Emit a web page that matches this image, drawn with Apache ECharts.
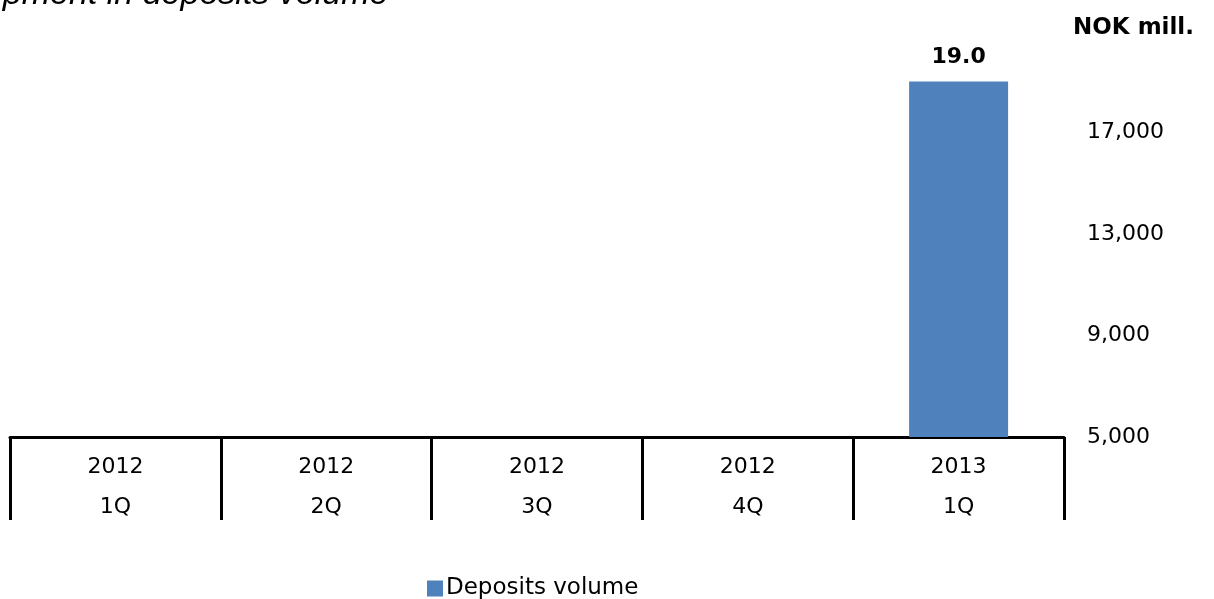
<!DOCTYPE html>
<html>
<head>
<meta charset="utf-8">
<script src="https://cdn.jsdelivr.net/npm/echarts@6/dist/echarts.min.js"></script>
<style>
  html, body { margin: 0; padding: 0; background: #fff; }
  #chart { width: 1214px; height: 599px; }
</style>
</head>
<body>
<div id="chart"></div>
<script>
// Quarterly deposits volume, NOK million
const categories = ['2012\n1Q', '2012\n2Q', '2012\n3Q', '2012\n4Q', '2013\n1Q'];
const depositsVolume = [null, null, null, null, 19000];
const seriesName = 'Deposits volume';
const yMin = 5000;
const yMax = 21000;
const yStep = 4000;

const FONT = 'DejaVu Sans';
const chart = echarts.init(document.getElementById('chart'), null, { renderer: 'canvas' });

chart.setOption({
  animation: false,
  backgroundColor: '#ffffff',
  textStyle: { fontFamily: FONT },
  graphic: [
    {
      type: 'text',
      x: -103,
      y: -22,
      style: {
        text: 'Development in deposits volume',
        font: 'italic 34px "Liberation Sans", Arial, sans-serif',
        fill: '#000',
        align: 'left',
        verticalAlign: 'top'
      }
    },
    {
      type: 'text',
      left: 1073,
      top: 17,
      style: {
        text: 'NOK mill.',
        font: 'bold 23px "DejaVu Sans", sans-serif',
        fill: '#000'
      }
    }
  ],
  legend: {
    left: 422,
    top: 572,
    itemWidth: 16,
    itemHeight: 16,
    itemGap: 10,
    icon: 'rect',
    textStyle: { fontFamily: FONT, fontSize: 23, color: '#000', padding: [0, 0, 0, -2] },
    data: [seriesName]
  },
  grid: {
    left: 10,
    right: 150,
    top: 437 - (yMax - yMin) / yStep * 101.6,
    bottom: 599 - 437,
    containLabel: false
  },
  xAxis: {
    type: 'category',
    data: categories,
    boundaryGap: true,
    axisLine: { show: true, lineStyle: { color: '#000', width: 3 } },
    axisTick: { show: true, interval: 0, length: 83, lineStyle: { color: '#000', width: 3 } },
    axisLabel: {
      interval: 0,
      margin: 10,
      fontFamily: FONT,
      fontSize: 22,
      lineHeight: 40,
      color: '#000'
    },
    splitLine: { show: false }
  },
  yAxis: {
    type: 'value',
    position: 'right',
    min: yMin,
    max: yMax,
    interval: yStep,
    axisLine: { show: false },
    axisTick: { show: false },
    splitLine: { show: false },
    axisLabel: {
      margin: 23,
      fontFamily: FONT,
      fontSize: 22,
      color: '#000',
      formatter: function (v) {
        if (v >= yMax) return '';
        return v.toLocaleString('en-US');
      }
    }
  },
  series: [
    {
      name: seriesName,
      type: 'bar',
      data: depositsVolume,
      barWidth: 99,
      itemStyle: { color: '#4F81BD' },
      label: {
        show: true,
        position: 'top',
        distance: 13,
        fontFamily: FONT,
        fontSize: 22,
        fontWeight: 'bold',
        color: '#000',
        formatter: function (p) {
          return (p.value / 1000).toFixed(1);
        }
      }
    }
  ]
});
</script>
</body>
</html>
